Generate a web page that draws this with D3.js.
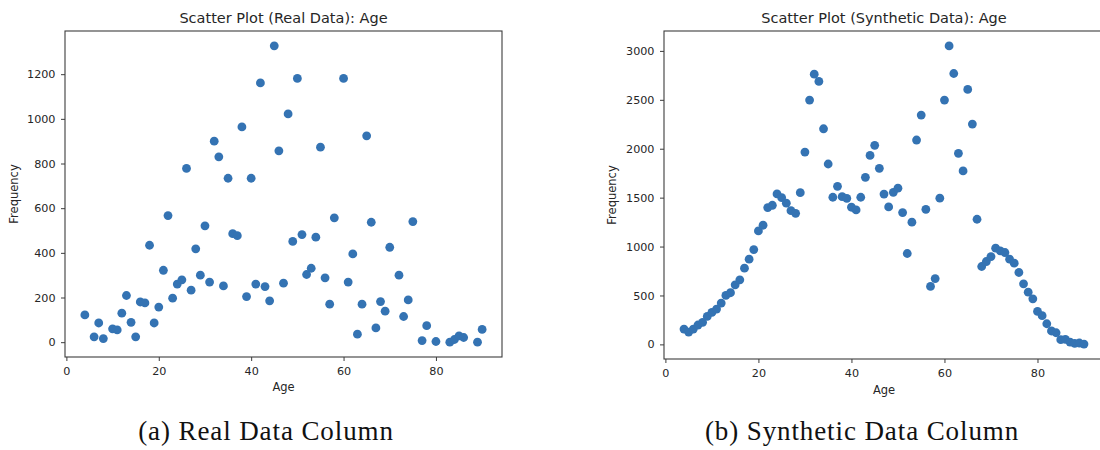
<!DOCTYPE html>
<html>
<head>
<meta charset="utf-8">
<script src="https://cdn.jsdelivr.net/npm/d3@7"></script>
<style>
  html, body { margin: 0; padding: 0; background: #fff; }
  svg { display: block; }
  .tick text { font-family: "DejaVu Sans", sans-serif; font-size: 11.2px; fill: #262626; }
</style>
</head>
<body>
<svg id="chart" width="1100" height="450"></svg>
<script>
// Age frequency counts, real column
const realAges = [4,6,7,8,10,11,12,13,14,15,16,17,18,19,20,21,22,23,24,25,26,27,28,29,30,31,32,33,34,35,36,37,38,39,40,41,42,43,44,45,46,47,48,49,50,51,52,53,54,55,56,57,58,60,61,62,63,64,65,66,67,68,69,70,72,73,74,75,77,78,80,83,84,85,86,89,90];
const realFreq = [122,24,86,16,60,55,130,209,89,24,180,176,434,86,157,322,567,197,260,279,778,233,418,300,521,269,900,830,252,734,486,477,964,204,734,260,1161,249,185,1327,857,264,1022,451,1181,482,303,331,470,873,288,170,557,1181,269,395,36,170,924,537,64,182,139,425,300,115,189,540,7,74,3,0,12,28,21,0,57];

// Age frequency counts, synthetic column
const synthAges = [4,5,6,7,8,9,10,11,12,13,14,15,16,17,18,19,20,21,22,23,24,25,26,27,28,29,30,31,32,33,34,35,36,37,38,39,40,41,42,43,44,45,46,47,48,49,50,51,52,53,54,55,56,57,58,59,60,61,62,63,64,65,66,67,68,69,70,71,72,73,74,75,76,77,78,79,80,81,82,83,84,85,86,87,88,89,90];
const synthFreq = [157,126,157,198,225,286,327,361,422,500,528,609,660,779,871,969,1160,1218,1398,1422,1538,1500,1443,1367,1340,1551,1966,2497,2762,2688,2204,1844,1504,1616,1510,1493,1402,1374,1504,1708,1932,2035,1800,1536,1405,1554,1597,1347,929,1249,2089,2344,1381,592,673,1495,2497,3051,2769,1953,1773,2606,2252,1279,796,847,898,983,956,939,871,830,735,619,534,466,337,293,211,137,119,48,51,24,10,14,3];

const xTicks = [0, 20, 40, 60, 80];
const realYTicks = [0, 200, 400, 600, 800, 1000, 1200];
const synthYTicks = [0, 500, 1000, 1500, 2000, 2500, 3000];

const titles = ["Scatter Plot (Real Data): Age", "Scatter Plot (Synthetic Data): Age"];
const captions = ["(a) Real Data Column", "(b) Synthetic Data Column"];

const svg = d3.select("#chart");
const dotColor = "#3473b3";
const frameColor = "#3c3c3c";
const textColor = "#262626";
const plain = d3.format("d");

// pad a data extent by 5% on each side
function padded(values) {
  const [lo, hi] = d3.extent(values);
  const m = (hi - lo) * 0.05;
  return [lo - m, hi + m];
}

function drawPanel(p) {
  const x = d3.scaleLinear().domain(padded(p.ages)).range([p.left, p.right]);
  const y = d3.scaleLinear().domain(padded(p.freq)).range([p.bottom, p.top]);
  const g = svg.append("g");

  // points
  g.append("g").selectAll("circle")
    .data(p.ages.map((a, i) => ({ age: a, freq: p.freq[i] })))
    .join("circle")
    .attr("cx", d => x(d.age))
    .attr("cy", d => y(d.freq))
    .attr("r", 4.4)
    .attr("fill", dotColor);

  // axes
  const xa = g.append("g").attr("transform", `translate(0,${p.bottom})`)
    .call(d3.axisBottom(x).tickValues(xTicks).tickFormat(plain).tickSize(4).tickPadding(6.5).tickSizeOuter(0));
  const ya = g.append("g").attr("transform", `translate(${p.left},0)`)
    .call(d3.axisLeft(y).tickValues(p.yTicks).tickFormat(plain).tickSize(4).tickPadding(5.5).tickSizeOuter(0));
  [xa, ya].forEach(a => {
    a.select(".domain").remove();
    a.selectAll(".tick line").attr("stroke", frameColor).attr("stroke-width", 1);
  });

  // frame
  g.append("rect")
    .attr("x", p.left).attr("y", p.top)
    .attr("width", p.right - p.left).attr("height", p.bottom - p.top)
    .attr("fill", "none").attr("stroke", frameColor).attr("stroke-width", 1.1);

  // title
  g.append("text")
    .attr("x", (p.left + p.right) / 2).attr("y", 23)
    .attr("text-anchor", "middle")
    .attr("font-family", "DejaVu Sans, sans-serif").attr("font-size", 14.5)
    .attr("fill", textColor).text(p.title);

  // axis labels
  g.append("text")
    .attr("x", (p.left + p.right) / 2).attr("y", p.xLabelY)
    .attr("text-anchor", "middle")
    .attr("font-family", "DejaVu Sans, sans-serif").attr("font-size", 11.5)
    .attr("fill", textColor).text("Age");
  g.append("text")
    .attr("transform", `translate(${p.yLabelX},${(p.top + p.bottom) / 2}) rotate(-90)`)
    .attr("text-anchor", "middle")
    .attr("font-family", "DejaVu Sans, sans-serif").attr("font-size", 11.5)
    .attr("fill", textColor).text("Frequency");

  // caption
  svg.append("text")
    .attr("x", p.captionX).attr("y", 440)
    .attr("text-anchor", "middle")
    .attr("font-family", "Liberation Serif, serif").attr("font-size", 27)
    .attr("letter-spacing", 0.9)
    .attr("fill", "#111").text(p.caption);
}

drawPanel({
  ages: realAges, freq: realFreq, yTicks: realYTicks,
  left: 65, right: 502, top: 31, bottom: 357,
  title: titles[0], caption: captions[0], captionX: 266,
  xLabelY: 391, yLabelX: 17.5
});

drawPanel({
  ages: synthAges, freq: synthFreq, yTicks: synthYTicks,
  left: 664, right: 1104, top: 31, bottom: 359,
  title: titles[1], caption: captions[1], captionX: 862,
  xLabelY: 393.5, yLabelX: 616
});
</script>
</body>
</html>
